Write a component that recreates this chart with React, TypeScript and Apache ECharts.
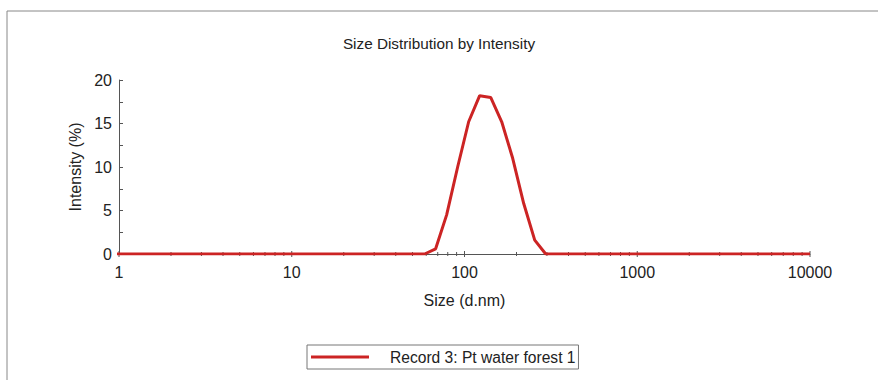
import React, { useEffect, useRef } from "react";
import * as echarts from "echarts";

const titleText = "Size Distribution by Intensity";
const seriesName = "Record 3: Pt water forest 1";

const sizes = [
  0.9649, 1.117, 1.294, 1.499, 1.736, 2.01, 2.328, 2.696, 3.122, 3.615, 4.187, 4.849,
  5.615, 6.503, 7.531, 8.721, 10.1, 11.7, 13.54, 15.69, 18.17, 21.04, 24.36, 28.21,
  32.67, 37.84, 43.82, 50.75, 58.77, 68.06, 78.82, 91.28, 105.7, 122.4, 141.8, 164.2,
  190.1, 220.2, 255.0, 295.3, 342.0, 396.1, 458.7, 531.2, 615.1, 712.4, 825.0, 955.4,
  1106, 1281, 1484, 1718, 1990, 2305, 2669, 3091, 3580, 4145, 4801, 5560, 6439, 7456,
  8635, 10000,
];

const intensity = [
  0, 0, 0, 0, 0, 0, 0, 0, 0, 0, 0, 0,
  0, 0, 0, 0, 0, 0, 0, 0, 0, 0, 0, 0,
  0, 0, 0, 0, 0, 0.6, 4.5, 10.0, 15.2, 18.2, 18.0, 15.2,
  11.0, 5.8, 1.6, 0, 0, 0, 0, 0, 0, 0, 0, 0,
  0, 0, 0, 0, 0, 0, 0, 0, 0, 0, 0, 0, 0, 0,
  0, 0,
];

const majorTickValues = [1, 10, 100, 1000, 10000];
const minorTickValues = [
  2, 3, 4, 5, 6, 7, 8, 9,
  20, 30, 40, 50, 60, 70, 80, 90,
  200, 300, 400, 500, 600, 700, 800, 900,
  2000, 3000, 4000, 5000, 6000, 7000, 8000, 9000,
];

const FONT = "Liberation Sans, Arial, sans-serif";
const TEXT = "#222";
const AXIS = "#555";
const RED = "#cc2424";

export default function App() {
  const ref = useRef<HTMLDivElement>(null);

  useEffect(() => {
    if (!ref.current) return;
    const chart = echarts.init(ref.current, undefined, { renderer: "svg" });

    const tickData = [
      ...majorTickValues.map((v) => [v, 3]),
      ...minorTickValues.map((v) => [v, 2]),
    ];

    chart.setOption({
      animation: false,
      backgroundColor: "#fff",
      title: {
        text: titleText,
        left: "center",
        top: 31,
        textStyle: { fontFamily: FONT, fontSize: 15.3, fontWeight: "normal", color: TEXT },
      },
      grid: { left: 119, right: 68, top: 80, bottom: 126 },
      legend: {
        data: [{ name: seriesName, icon: "rect" }],
        left: 307,
        top: 345,
        padding: [4, 3, 4, 4],
        itemWidth: 58,
        itemHeight: 3,
        borderColor: "#777",
        borderWidth: 1,
        borderRadius: 0,
        textStyle: { fontFamily: FONT, fontSize: 15.6, color: TEXT, padding: [0, 0, 0, 16] },
      },
      xAxis: {
        type: "log",
        min: 1,
        max: 10000,
        logBase: 10,
        name: "Size (d.nm)",
        nameLocation: "middle",
        nameGap: 38,
        nameTextStyle: { fontFamily: FONT, fontSize: 16, color: TEXT },
        axisLine: { lineStyle: { color: AXIS, width: 1 } },
        axisTick: { show: false },
        minorTick: { show: false },
        splitLine: { show: false },
        axisLabel: {
          margin: 10,
          fontFamily: FONT,
          fontSize: 16,
          color: TEXT,
          formatter: (v: number) => String(Math.round(v)),
        },
      },
      yAxis: {
        type: "value",
        min: 0,
        max: 20,
        interval: 5,
        name: "Intensity (%)",
        nameLocation: "middle",
        nameGap: 35,
        nameTextStyle: { fontFamily: FONT, fontSize: 16, color: TEXT },
        axisLine: { show: true, lineStyle: { color: AXIS, width: 1 } },
        axisTick: { show: true, inside: true, length: 4, lineStyle: { color: AXIS } },
        minorTick: { show: true, splitNumber: 2, length: 4, lineStyle: { color: AXIS } },
        splitLine: { show: false },
        axisLabel: { margin: 7, fontFamily: FONT, fontSize: 16, color: TEXT },
      },
      graphic: [
        {
          type: "rect",
          shape: { x: 7, y: 11, width: 900, height: 420 },
          style: { fill: "none", stroke: "#888", lineWidth: 1 },
          silent: true,
          z: -10,
        },
      ],
      series: [
        {
          type: "custom",
          name: "ticks",
          data: tickData,
          z: 1,
          silent: true,
          renderItem: (params: any, api: any) => {
            const p = api.coord([api.value(0), 0]);
            const len = api.value(1);
            return {
              type: "line",
              shape: { x1: p[0], y1: p[1] - len, x2: p[0], y2: p[1] + len },
              style: { stroke: AXIS, lineWidth: 1 },
            };
          },
        },
        {
          type: "line",
          name: seriesName,
          data: sizes.map((s, i) => [s, intensity[i]]),
          symbol: "none",
          clip: true,
          z: 5,
          lineStyle: { color: RED, width: 3 },
          itemStyle: { color: RED },
        },
      ],
    });

    return () => chart.dispose();
  }, []);

  return (
    <div
      ref={ref}
      style={{ position: "absolute", left: 0, top: 0, width: 878, height: 380 }}
    />
  );
}
